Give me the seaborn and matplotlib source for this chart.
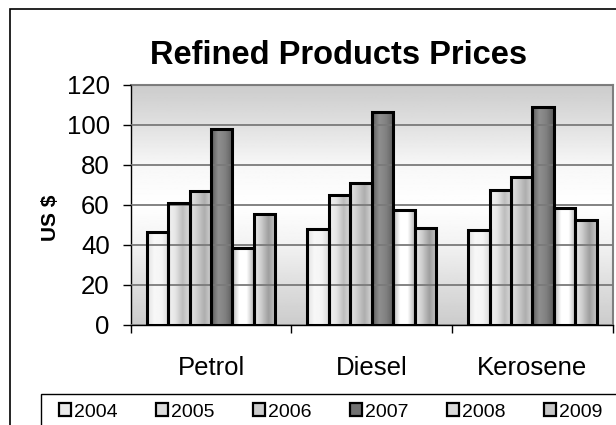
import numpy as np
import pandas as pd
import matplotlib
matplotlib.use("Agg")
import matplotlib.pyplot as plt
from matplotlib.patches import Patch, Rectangle
import seaborn as sns

# ---------------------------------------------
# Data
# ---------------------------------------------
products = ['Petrol', 'Diesel', 'Kerosene']
years = ['2004', '2005', '2006', '2007', '2008', '2009']
petrol = [46.5, 61, 67, 98, 38.7, 55.7]
diesel = [48, 65, 71, 106.7, 57.5, 48.7]
kerosene = [47.3, 67.7, 74, 108.8, 58.7, 52.7]

rows = []
for prod, vals in zip(products, [petrol, diesel, kerosene]):
    for yr, v in zip(years, vals):
        rows.append({'product': prod, 'year': yr, 'price': v})
df = pd.DataFrame(rows)

# horizontal shading profile (gray level left -> right) for each year
shade = {
    '2004': [0.88, 0.97, 0.96, 0.86],
    '2005': [0.95, 0.90, 0.74, 0.86],
    '2006': [0.90, 0.80, 0.68, 0.84],
    '2007': [0.36, 0.56, 0.50, 0.36],
    '2008': [0.72, 1.00, 1.00, 0.72],
    '2009': [0.92, 0.80, 0.62, 0.78],
}

sns.set_theme(style='white')
plt.rcParams['font.family'] = ['Liberation Sans', 'DejaVu Sans']
plt.rcParams['text.color'] = 'black'
plt.rcParams['axes.labelcolor'] = 'black'
plt.rcParams['xtick.color'] = 'black'
plt.rcParams['ytick.color'] = 'black'

fig = plt.figure(figsize=(6.16, 4.25), dpi=100)
ax = fig.add_axes([130.7 / 616, 1 - 325 / 425, 482 / 616, 240 / 425])

sns.barplot(data=df, x='product', y='price', hue='year', order=products,
            hue_order=years, palette=['#cccccc'] * 6, width=0.8,
            edgecolor='black', linewidth=2.2, legend=False, ax=ax)

# background gradient of the plot area
yy = np.linspace(0, 120, 200)
bg = np.interp(yy, [0, 20, 40, 60, 80, 100, 120],
               [0.80, 0.87, 0.95, 1.0, 0.97, 0.88, 0.80])
ax.imshow(bg[:, None], extent=(-0.5, 2.5, 0, 120), origin='lower',
          aspect='auto', cmap='gray', vmin=0, vmax=1, zorder=0)

# shaded bar faces
for yr, cont in zip(years, ax.containers):
    prof = np.interp(np.linspace(0, 1, 50), np.linspace(0, 1, len(shade[yr])), shade[yr])
    for bar in cont:
        x0, w, h = bar.get_x(), bar.get_width(), bar.get_height()
        bar.set_facecolor('none')
        bar.set_zorder(3)
        im = ax.imshow(prof[None, :], extent=(x0, x0 + w, 0, h), aspect='auto',
                       cmap='gray', vmin=0, vmax=1, zorder=2)
        im.set_clip_path(bar)

ax.set_xlim(-0.5, 2.5)
ax.set_ylim(0, 120)
ax.set_yticks(range(0, 121, 20))
ax.yaxis.grid(True, color='#7a7a7a', linewidth=1.3, zorder=1)
ax.set_axisbelow(False)
for gl in ax.get_ygridlines():
    gl.set_zorder(1)

ax.set_xticks([0, 1, 2])
ax.set_xticklabels(products)
ax.set_xticks([-0.5, 0.5, 1.5, 2.5], minor=True)
ax.tick_params(axis='x', which='major', length=0, pad=22, labelsize=18.5)
ax.tick_params(axis='x', which='minor', length=6, width=1, color='black',
               direction='out', bottom=True)
ax.tick_params(axis='y', length=6, width=1, color='black', direction='out',
               left=True, pad=9, labelsize=18.5)
ax.set_xlabel('')
ax.set_ylabel('US $', fontsize=15, fontweight='bold')
ax.yaxis.set_label_coords(-0.1467, 0.446)

for s in ['left', 'bottom']:
    ax.spines[s].set_color('black')
    ax.spines[s].set_linewidth(1)
for s in ['top', 'right']:
    ax.spines[s].set_color('#7f7f7f')
    ax.spines[s].set_linewidth(1.5)

fig.text(339 / 616, 1 - 64 / 425, 'Refined Products Prices', ha='center',
         va='baseline', fontsize=23.5, fontweight='bold', color='black')

# outer chart border and legend box (both run off the picture)
fig.patches.append(Rectangle((10 / 616, -0.1), 1.2, 1.1 - 9 / 425,
                             transform=fig.transFigure, fill=False,
                             edgecolor='black', linewidth=1.2))
fig.patches.append(Rectangle((41 / 616, -0.1), 1.2, 0.1 + 1 - 394 / 425,
                             transform=fig.transFigure, fill=False,
                             edgecolor='black', linewidth=1.0))

handles = [Patch(facecolor=str(np.mean(shade[y])), edgecolor='black', linewidth=1.6)
           for y in years]
fig.legend(handles, years, loc='center left', bbox_to_anchor=(59 / 616, 1 - 412 / 425),
           ncol=6, frameon=False, fontsize=14, handlelength=0.6, handleheight=0.6,
           handletextpad=0.15, columnspacing=2.0, borderpad=0, borderaxespad=0,
           labelcolor='black')

fig.savefig('out.png', dpi=100)
